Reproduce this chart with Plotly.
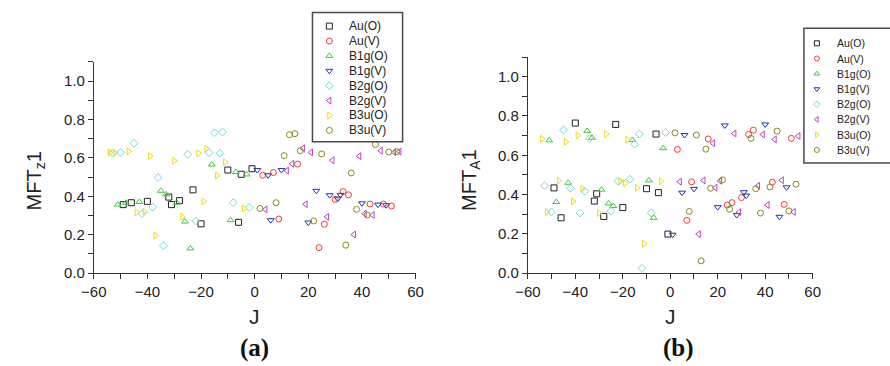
import plotly.graph_objects as go

# ---------------- data ----------------
series_names = ["Au(O)", "Au(V)", "B1g(O)", "B1g(V)", "B2g(O)", "B2g(V)", "B3u(O)", "B3u(V)"]

# J values for each series (shared by panels (a) and (b))
J_AuO = [-49, -46, -40, -32, -31, -28, -23, -20, -10, -6, -5, -1]
J_AuV = [3, 7, 9, 16, 24, 26, 30, 33, 35, 43, 48, 51]
J_B1gO = [-51, -48, -43, -35, -33, -29, -26, -24, -16, -9, -7, -3]
J_B1gV = [1, 5, 6, 10, 20, 23, 28, 31, 32, 40, 46, 49]
J_B2gO = [-53, -50, -45, -42, -38, -36, -34, -25, -22, -17, -15, -13, -12, -8, -2]
J_B2gV = [4, 12, 14, 18, 19, 21, 27, 29, 37, 39, 41, 44, 47, 52, 54]
J_B3uO = [-54, -52, -47, -44, -41, -39, -37, -30, -27, -21, -19, -18, -14, -11, -4]
J_B3uV = [2, 8, 11, 13, 15, 17, 22, 25, 34, 36, 38, 42, 45, 50, 53]

# panel (a): MFT_z 1
mftz_AuO = [0.357, 0.367, 0.374, 0.396, 0.357, 0.378, 0.434, 0.257, 0.537, 0.265, 0.515, 0.544]
mftz_AuV = [0.510, 0.524, 0.282, 0.568, 0.133, 0.255, 0.384, 0.425, 0.408, 0.360, 0.360, 0.350]
mftz_B1gO = [0.357, 0.367, 0.371, 0.429, 0.410, 0.367, 0.269, 0.129, 0.566, 0.276, 0.527, 0.514]
mftz_B1gV = [0.537, 0.510, 0.276, 0.537, 0.264, 0.429, 0.406, 0.388, 0.408, 0.364, 0.357, 0.354]
mftz_B2gO = [0.626, 0.629, 0.677, 0.310, 0.344, 0.498, 0.143, 0.619, 0.272, 0.628, 0.731, 0.624, 0.735, 0.367, 0.342]
mftz_B2gV = [0.332, 0.534, 0.570, 0.650, 0.359, 0.629, 0.293, 0.588, 0.201, 0.609, 0.310, 0.303, 0.638, 0.630, 0.633]
mftz_B3uO = [0.629, 0.626, 0.634, 0.316, 0.320, 0.609, 0.196, 0.585, 0.294, 0.624, 0.374, 0.648, 0.509, 0.578, 0.337]
mftz_B3uV = [0.337, 0.367, 0.612, 0.721, 0.726, 0.638, 0.272, 0.621, 0.146, 0.522, 0.332, 0.303, 0.670, 0.631, 0.633]

# panel (b): MFT_A 1
mftA_AuO = [0.434, 0.282, 0.764, 0.367, 0.404, 0.289, 0.757, 0.334, 0.430, 0.708, 0.410, 0.199]
mftA_AuV = [0.630, 0.269, 0.465, 0.683, 0.347, 0.359, 0.385, 0.706, 0.728, 0.463, 0.350, 0.686]
mftA_B1gO = [0.676, 0.362, 0.460, 0.724, 0.689, 0.425, 0.355, 0.342, 0.678, 0.472, 0.282, 0.636]
mftA_B1gV = [0.196, 0.410, 0.703, 0.429, 0.336, 0.752, 0.296, 0.412, 0.395, 0.757, 0.287, 0.437]
mftA_B2gO = [0.445, 0.312, 0.729, 0.432, 0.306, 0.417, 0.686, 0.316, 0.468, 0.478, 0.656, 0.708, 0.025, 0.307, 0.716]
mftA_B2gV = [0.465, 0.199, 0.472, 0.661, 0.435, 0.470, 0.711, 0.311, 0.445, 0.706, 0.347, 0.681, 0.473, 0.312, 0.698]
mftA_B3uO = [0.684, 0.311, 0.470, 0.668, 0.365, 0.701, 0.429, 0.306, 0.708, 0.468, 0.458, 0.679, 0.435, 0.150, 0.467]
mftA_B3uV = [0.714, 0.314, 0.703, 0.063, 0.631, 0.432, 0.475, 0.326, 0.686, 0.430, 0.306, 0.439, 0.723, 0.317, 0.453]

J_all = [J_AuO, J_AuV, J_B1gO, J_B1gV, J_B2gO, J_B2gV, J_B3uO, J_B3uV]
mftz_all = [mftz_AuO, mftz_AuV, mftz_B1gO, mftz_B1gV, mftz_B2gO, mftz_B2gV, mftz_B3uO, mftz_B3uV]
mftA_all = [mftA_AuO, mftA_AuV, mftA_B1gO, mftA_B1gV, mftA_B2gO, mftA_B2gV, mftA_B3uO, mftA_B3uV]

# ---------------- styles ----------------
symbols = ["square-open", "circle-open", "triangle-up-open", "triangle-down-open",
           "diamond-open", "triangle-left-open", "triangle-right-open", "circle-open"]
colors = ["#222222", "#f03c3c", "#3cc83c", "#2236a8", "#72dcdc", "#bb44c0", "#ecd81e", "#8c8a14"]

FONT = "Liberation Sans, Arial, sans-serif"
SERIF = "Liberation Serif, Times New Roman, serif"
fig = go.Figure()

for i, name in enumerate(series_names):
    mk = dict(symbol=symbols[i], size=6, color=colors[i], line=dict(width=1, color=colors[i]))
    fig.add_trace(go.Scatter(x=J_all[i], y=mftz_all[i], mode="markers", marker=mk,
                             name=name, xaxis="x", yaxis="y", showlegend=False))
    fig.add_trace(go.Scatter(x=J_all[i], y=mftA_all[i], mode="markers", marker=mk,
                             name=name, xaxis="x2", yaxis="y2", showlegend=False))

# legend boxes (drawn as small auxiliary axes)
rows = list(range(len(series_names)))
fig.add_trace(go.Scatter(x=[17.3] * len(rows), y=rows, mode="markers", xaxis="x3", yaxis="y3",
                         marker=dict(symbol=symbols, size=6, color=colors, line=dict(width=1, color=colors)),
                         showlegend=False, hoverinfo="skip"))
fig.add_trace(go.Scatter(x=[13.3] * len(rows), y=rows, mode="markers", xaxis="x4", yaxis="y4",
                         marker=dict(symbol=symbols, size=5, color=colors, line=dict(width=1, color=colors)),
                         showlegend=False, hoverinfo="skip"))

annotations = []
for i, name in enumerate(series_names):
    annotations.append(dict(x=35.5, y=i, xref="x3", yref="y3", text=name, showarrow=False,
                            xanchor="left", yanchor="middle", font=dict(family=FONT, size=12, color="#222")))
    annotations.append(dict(x=31.5, y=i, xref="x4", yref="y4", text=name, showarrow=False,
                            xanchor="left", yanchor="middle", font=dict(family=FONT, size=10.5, color="#222")))

title_font = dict(family=FONT, size=20, color="#222")
annotations += [
    dict(x=23 / 890, y=1 - 185 / 366, xref="paper", yref="paper", text="MFT<sub>z</sub>1", textangle=-90,
         showarrow=False, xanchor="center", yanchor="middle", font=title_font),
    dict(x=469 / 890, y=1 - 184 / 366, xref="paper", yref="paper", text="MFT<sub>A</sub>1", textangle=-90,
         showarrow=False, xanchor="center", yanchor="middle", font=title_font),
    dict(x=247.5 / 890, y=1 - 324 / 366, xref="paper", yref="paper", text="J", showarrow=False,
         xanchor="center", yanchor="middle", font=dict(family=FONT, size=21, color="#222")),
    dict(x=673 / 890, y=1 - 324 / 366, xref="paper", yref="paper", text="J", showarrow=False,
         xanchor="center", yanchor="middle", font=dict(family=FONT, size=21, color="#222")),
    dict(x=247.5 / 890, y=1 - 356 / 366, xref="paper", yref="paper", text="<b>(a)</b>", showarrow=False,
         xanchor="center", yanchor="middle", font=dict(family=SERIF, size=25, color="#111")),
    dict(x=682 / 890, y=1 - 356 / 366, xref="paper", yref="paper", text="<b>(b)</b>", showarrow=False,
         xanchor="center", yanchor="middle", font=dict(family=SERIF, size=25, color="#111")),
]

axis_common = dict(showline=True, linecolor="#333", linewidth=1, ticks="outside", ticklen=5, tickwidth=1,
                   tickcolor="#333", showgrid=False, zeroline=False,
                   tickfont=dict(family=FONT, size=15, color="#222"))
minor_x = dict(dtick=10, tick0=-60, ticks="outside", ticklen=5, tickwidth=1, tickcolor="#333", showgrid=False)
minor_y = dict(dtick=0.1, tick0=0, ticks="outside", ticklen=5, tickwidth=1, tickcolor="#333", showgrid=False)

xa = dict(range=[-60, 60], tick0=-60, dtick=20, minor=minor_x, **axis_common)
ya = dict(range=[0, 1.1], tick0=0, dtick=0.2, tickformat=".1f", minor=minor_y, **axis_common)

hidden = dict(visible=False, showgrid=False, zeroline=False, fixedrange=True)

fig.update_layout(
    width=890, height=366, autosize=False,
    margin=dict(l=0, r=0, t=0, b=0, pad=0),
    paper_bgcolor="white", plot_bgcolor="white",
    showlegend=False,
    xaxis=dict(domain=[82.7 / 890, 412.3 / 890], anchor="y", **xa),
    yaxis=dict(domain=[1 - 279.3 / 366, 1 - 63.3 / 366], anchor="x", **ya),
    xaxis2=dict(domain=[527.3 / 890, 819 / 890], anchor="y2", **xa),
    yaxis2=dict(domain=[1 - 279.3 / 366, 1 - 58.3 / 366], anchor="x2", **ya),
    xaxis3=dict(domain=[306.7 / 890, 399 / 890], anchor="y3", range=[0, 92.3], **hidden),
    yaxis3=dict(domain=[1 - 145 / 366, 1 - 12.7 / 366], anchor="x3", range=[7.77, -0.92], **hidden),
    xaxis4=dict(domain=[810 / 890, 1.0], anchor="y4", range=[0, 80], **hidden),
    yaxis4=dict(domain=[1 - 166.7 / 366, 1 - 29 / 366], anchor="x4", range=[7.86, -0.98], **hidden),
    shapes=[
        dict(type="rect", xref="paper", yref="paper", x0=306.7 / 890, x1=399 / 890,
             y0=1 - 145 / 366, y1=1 - 12.7 / 366, line=dict(color="#4a4a4a", width=1.5)),
        dict(type="rect", xref="paper", yref="paper", x0=810 / 890, x1=1.05,
             y0=1 - 166.7 / 366, y1=1 - 29 / 366, line=dict(color="#4a4a4a", width=1.5)),
    ],
    annotations=annotations,
)

fig.write_html("out.html")
